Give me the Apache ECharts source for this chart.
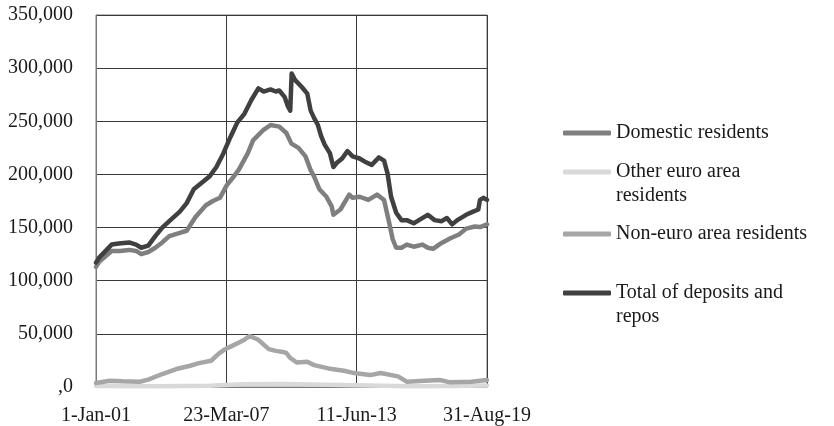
<!DOCTYPE html>
<html>
<head>
<meta charset="utf-8">
<script src="https://cdn.jsdelivr.net/npm/echarts@6/dist/echarts.min.js"></script>
<style>
  html, body { margin: 0; padding: 0; background: #fff; }
  #chart { width: 834px; height: 426px; }
</style>
</head>
<body>
<div id="chart"></div>
<script>
'use strict';

// series: [date, value]
const domestic = [
    ['2001-01', 113000], ['2001-03', 118000], ['2001-10', 128000], ['2002-03', 128000],
    ['2002-08', 129000], ['2002-12', 128000], ['2003-03', 125000], ['2003-07', 127000],
    ['2003-11', 131000], ['2004-03', 136000], ['2004-07', 142000], ['2005-01', 145000],
    ['2005-05', 147000], ['2005-10', 160000], ['2006-04', 171000], ['2006-08', 175000],
    ['2006-12', 178000], ['2007-04', 190000], ['2007-08', 198000], ['2007-11', 205000],
    ['2008-04', 220000], ['2008-07', 232000], ['2009-01', 242000], ['2009-05', 246500],
    ['2009-10', 245000], ['2010-02', 239000], ['2010-05', 229000], ['2010-09', 225000],
    ['2011-01', 217000], ['2011-04', 204000], ['2011-06', 198000], ['2011-09', 186000],
    ['2012-01', 179000], ['2012-04', 170000], ['2012-05', 162000], ['2012-09', 167000],
    ['2013-02', 181000], ['2013-04', 178000], ['2013-08', 179000], ['2014-01', 176000],
    ['2014-06', 181000], ['2014-10', 176000], ['2015-01', 154000], ['2015-03', 139000],
    ['2015-05', 131000], ['2015-08', 131000], ['2015-11', 134000], ['2016-03', 132000],
    ['2016-08', 134000], ['2016-11', 131000], ['2017-02', 130000], ['2017-07', 135500],
    ['2017-12', 140000], ['2018-05', 143500], ['2018-09', 149000], ['2019-02', 151000],
    ['2019-05', 150500], ['2019-08-31', 153000]
];

const otherEuro = [
    ['2001-01', 1000], ['2004-01', 800], ['2006-06', 1200], ['2008-01', 2500],
    ['2010-01', 2800], ['2012-01', 2200], ['2014-01', 1500], ['2016-01', 800],
    ['2018-01', 1000], ['2019-08-31', 1500]
];

const nonEuro = [
    ['2001-01', 3800], ['2001-09', 5900], ['2002-04', 5300], ['2003-02', 5000],
    ['2003-07', 6900], ['2004-03', 12200], ['2004-11', 16900], ['2005-07', 20000],
    ['2005-12', 22500], ['2006-07', 24700], ['2006-11', 31000], ['2007-03', 35600],
    ['2007-07', 38700], ['2007-11', 41900], ['2008-02', 44400], ['2008-05', 48000],
    ['2008-10', 44400], ['2009-04', 35600], ['2009-08', 34000], ['2009-12', 33000],
    ['2010-02', 32000], ['2010-04', 27800], ['2010-08', 23000], ['2011-02', 23700],
    ['2011-06', 20600], ['2012-02', 17500], ['2012-11', 15300], ['2013-05', 13100],
    ['2014-02', 11200], ['2014-08', 13100], ['2015-06', 10000], ['2015-11', 5000],
    ['2016-09', 5900], ['2017-06', 6600], ['2017-12', 4400], ['2018-12', 5000],
    ['2019-08-31', 6600]
];

const total = [
    ['2001-01', 117000], ['2001-03', 122000], ['2001-10', 134000], ['2002-02', 135000],
    ['2002-08', 136000], ['2002-12', 134000], ['2003-03', 131000], ['2003-07', 133000],
    ['2003-11', 142000], ['2004-03', 150000], ['2004-07', 156000], ['2005-01', 165000],
    ['2005-05', 173000], ['2005-09', 186000], ['2006-06', 198000], ['2006-10', 207000],
    ['2007-02', 220000], ['2007-06', 235000], ['2007-10', 249000], ['2008-02', 257000],
    ['2008-06', 270000], ['2008-10', 281000], ['2009-01', 278000], ['2009-05', 280000],
    ['2009-08', 278000], ['2009-10', 279000], ['2010-01', 273000], ['2010-03', 264000],
    ['2010-04-10', 260000], ['2010-05-05', 295000], ['2010-07', 289000], ['2010-11', 282000],
    ['2011-02', 276000], ['2011-04', 260000], ['2011-06', 253000], ['2011-08', 247000],
    ['2011-10', 236000], ['2011-12', 228000], ['2012-03', 220000], ['2012-05', 207000],
    ['2012-07', 211000], ['2012-10', 215000], ['2013-01', 222000], ['2013-04', 217000],
    ['2013-08', 215000], ['2013-11', 212000], ['2014-03', 209000], ['2014-07', 216000],
    ['2014-10', 213000], ['2014-12', 201000], ['2015-02', 179000], ['2015-05', 164000],
    ['2015-08', 157000], ['2015-11', 157000], ['2016-03', 154000], ['2016-06', 157000],
    ['2016-11', 162000], ['2017-03', 157000], ['2017-07', 156000], ['2017-10', 159000],
    ['2018-01', 153000], ['2018-04', 157000], ['2018-09', 162000], ['2019-01', 165000],
    ['2019-04', 167000], ['2019-05', 176000], ['2019-07', 178000], ['2019-08-31', 176000]
];

// x axis: days counted from 1-Jan-01, ticks every 2272 days
const xStart = '2001-01-01';
const xEnd = '2019-08-31';
const xStep = 2272;
const yMax = 350000;
const yStep = 50000;

const FONT = '"Liberation Serif", "DejaVu Serif", serif';
const FSIZE = 20;
const TXT = '#1a1a1a';
const MONTHS = ['Jan', 'Feb', 'Mar', 'Apr', 'May', 'Jun', 'Jul', 'Aug', 'Sep', 'Oct', 'Nov', 'Dec'];

const toUtc = (s) => {
    const p = s.split('-').map(Number);
    return Date.UTC(p[0], p[1] - 1, p[2] || 1);
};
const dayOf = (s) => Math.round((toUtc(s) - toUtc(xStart)) / 864e5);
const toXY = (arr) => arr.map(d => [dayOf(d[0]), d[1]]);

const dayLabel = (v) => {
    const d = new Date(toUtc(xStart) + v * 864e5);
    const yy = String(d.getUTCFullYear() % 100).padStart(2, '0');
    return d.getUTCDate() + '-' + MONTHS[d.getUTCMonth()] + '-' + yy;
};
const numLabel = (v) => v === 0 ? ',0' : String(v).replace(/\B(?=(\d{3})+(?!\d))/g, ',');

const names = ['Domestic residents', 'Other euro area residents', 'Non-euro area residents', 'Total of deposits and repos'];
const wrapped = {
    'Other euro area residents': ['Other euro area', 'residents'],
    'Total of deposits and repos': ['Total of deposits and', 'repos']
};
const colors = ['#7f7f7f', '#d9d9d9', '#a6a6a6', '#404040'];

// one legend per item so the wrapped ones can hang their 2nd line below the icon
const makeLegend = (name, top) => {
    const lines = wrapped[name];
    return {
        orient: 'vertical',
        left: 563,
        top: top,
        padding: 0,
        itemWidth: 48,
        itemHeight: 5,
        icon: 'roundRect',
        selectedMode: false,
        data: [name],
        formatter: lines ? () => lines.map(s => '{t|' + s + '}').join('\n') : null,
        textStyle: {
            fontFamily: FONT, fontSize: FSIZE, color: TXT, lineHeight: 24,
            padding: lines ? [24, 0, 0, 0] : 0,
            rich: { t: { fontFamily: FONT, fontSize: FSIZE, color: TXT, lineHeight: 24 } }
        }
    };
};

const chart = echarts.init(document.getElementById('chart'));
chart.setOption({
    animation: false,
    grid: {
        left: 96, top: 15, width: 391, height: 373,
        show: true, borderColor: '#7a7a7a', borderWidth: 1
    },
    legend: [
        makeLegend(names[0], 121),
        makeLegend(names[1], 136),
        makeLegend(names[2], 222),
        makeLegend(names[3], 257)
    ],
    xAxis: {
        type: 'value',
        min: 0,
        max: dayOf(xEnd),
        interval: xStep,
        axisLine: { show: true, lineStyle: { color: '#7a7a7a' } },
        axisTick: { show: false },
        splitLine: { show: true, lineStyle: { color: '#3a3a3a', width: 1 } },
        axisLabel: {
            formatter: dayLabel,
            fontFamily: FONT, fontSize: FSIZE, color: TXT, margin: 19,
            showMaxLabel: true, showMinLabel: true
        }
    },
    yAxis: {
        type: 'value',
        min: 0,
        max: yMax,
        interval: yStep,
        axisLine: { show: true, lineStyle: { color: '#7a7a7a' } },
        axisTick: { show: false },
        splitLine: { show: true, lineStyle: { color: '#3a3a3a', width: 1 } },
        axisLabel: {
            formatter: numLabel,
            fontFamily: FONT, fontSize: FSIZE, color: TXT, margin: 23
        }
    },
    series: [domestic, otherEuro, nonEuro, total].map((arr, i) => ({
        name: names[i],
        type: 'line',
        data: toXY(arr),
        showSymbol: false,
        symbol: 'none',
        color: colors[i],
        lineStyle: { color: colors[i], width: 4.5, cap: 'round', join: 'round' }
    }))
});
</script>
</body>
</html>
